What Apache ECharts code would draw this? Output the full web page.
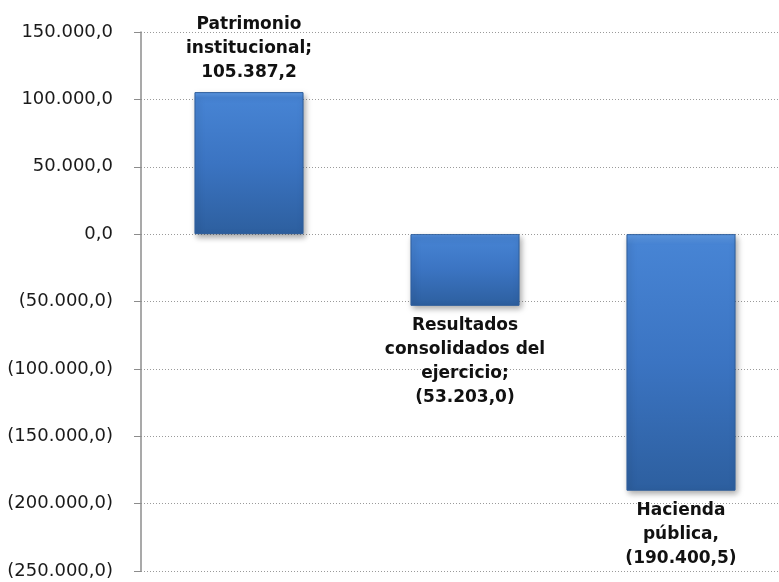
<!DOCTYPE html>
<html>
<head>
<meta charset="utf-8">
<script src="https://cdn.jsdelivr.net/npm/echarts@6/dist/echarts.min.js"></script>
<style>
  html, body { margin: 0; padding: 0; background: #fff; }
  #chart { width: 779px; height: 582px; }
</style>
</head>
<body>
<div id="chart"></div>
<script>
// categories (with the line breaks used in the labels) and their values
const categories = ['Patrimonio\ninstitucional', 'Resultados\nconsolidados del\nejercicio', 'Hacienda\npública'];
const separators = [';', ';', ','];
const values = [105387.2, -53203.0, -190400.5];

// y axis range
const yMin = -250000;
const yMax = 150000;
const yStep = 50000;

// 1.234.567,8 style, negatives in parentheses
function fmt(v) {
    const abs = Math.abs(v);
    const parts = abs.toFixed(1).split('.');
    const int = parts[0].replace(/\B(?=(\d{3})+(?!\d))/g, '.');
    const s = int + ',' + parts[1];
    return v < 0 ? '(' + s + ')' : s;
}

const barColor = new echarts.graphic.LinearGradient(0, 0, 0, 1, [
    { offset: 0, color: '#5f9be6' },
    { offset: 0.04, color: '#4784d4' },
    { offset: 0.5, color: '#3b74c2' },
    { offset: 1, color: '#2d5f9f' }
]);

const myChart = echarts.init(document.getElementById('chart'));
const option = {
    animation: false,
    grid: {
        left: 141,
        right: -10, // plot area runs a little past the right edge
        top: 32,
        bottom: 11,
        containLabel: false,
        outerBoundsMode: 'none'
    },
    xAxis: {
        type: 'category',
        data: categories,
        axisLine: { show: false },
        axisTick: { show: false },
        axisLabel: { show: false }
    },
    yAxis: {
        type: 'value',
        min: yMin,
        max: yMax,
        interval: yStep,
        axisLine: { show: true, lineStyle: { color: '#8c8c8c', width: 1.5 } },
        axisTick: { show: true, inside: false, length: 7, lineStyle: { color: '#8c8c8c' } },
        axisLabel: {
            color: '#1a1a1a',
            fontFamily: 'DejaVu Sans',
            fontSize: 18,
            margin: 28,
            formatter: v => fmt(v)
        },
        splitLine: {
            lineStyle: { color: '#9a9a9a', type: [1, 2], width: 1 }
        }
    },
    series: [
        {
            type: 'bar',
            barWidth: '50.5%',
            data: values.map((v, i) => ({
                value: v,
                label: {
                    position: v >= 0 ? 'top' : 'bottom'
                }
            })),
            itemStyle: {
                color: barColor,
                borderColor: '#2e5e9c',
                borderWidth: 1,
                shadowBlur: 6,
                shadowOffsetX: 2,
                shadowOffsetY: 3,
                shadowColor: 'rgba(0,0,0,0.35)'
            },
            label: {
                show: true,
                distance: 8,
                color: '#111',
                fontFamily: 'DejaVu Sans',
                fontWeight: 'bold',
                fontSize: 17,
                lineHeight: 24,
                align: 'center',
                formatter: p => categories[p.dataIndex] + separators[p.dataIndex] + '\n' + fmt(p.value)
            }
        }
    ]
};
myChart.setOption(option);
</script>
</body>
</html>
